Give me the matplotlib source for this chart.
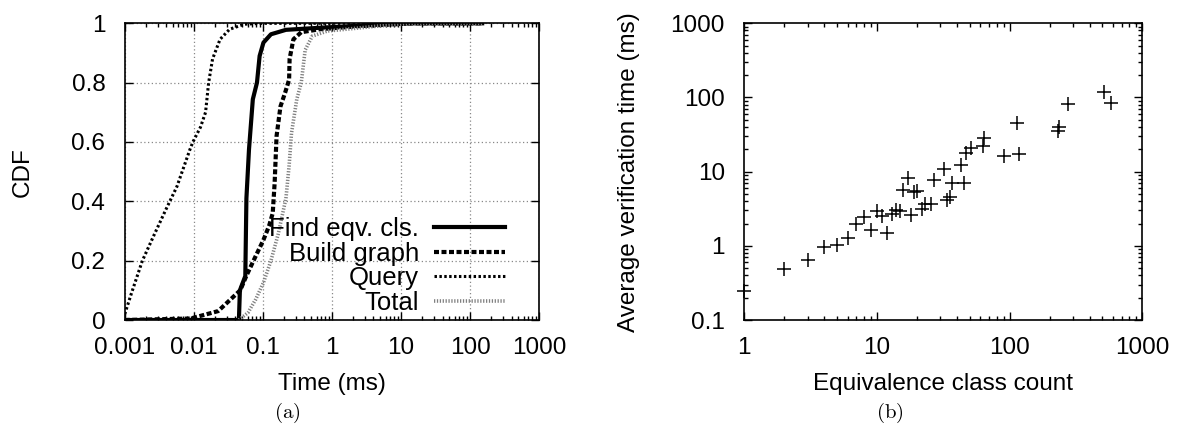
import matplotlib
matplotlib.use("Agg")
import matplotlib.pyplot as plt
from matplotlib.ticker import FixedLocator, LogLocator, NullFormatter, FuncFormatter

plt.rcParams.update(
    {
        "font.family": ["Liberation Sans", "DejaVu Sans"],
        "font.size": 17.5,
        "mathtext.fontset": "cm",
        "xtick.direction": "in",
        "ytick.direction": "in",
        "xtick.top": True,
        "ytick.right": True,
        "xtick.major.size": 6,
        "ytick.major.size": 6,
        "xtick.minor.size": 3,
        "ytick.minor.size": 3,
        "axes.linewidth": 1.2,
    }
)

# ---------------- (a) CDF of per-step time ----------------
find_x = [0.001, 0.045, 0.0465, 0.0557, 0.0578, 0.063, 0.0716, 0.0822, 0.0898,
          0.102, 0.131, 0.216, 0.67, 4.4, 15, 150]
find_y = [0, 0, 0.1, 0.148, 0.41, 0.575, 0.744, 0.8, 0.89,
          0.935, 0.963, 0.978, 0.985, 0.995, 1.0, 1.0]

build_x = [0.001, 0.009, 0.0225, 0.047, 0.058, 0.079, 0.102, 0.123, 0.139, 0.148,
           0.158, 0.18, 0.21, 0.24, 0.244, 0.277, 0.36, 0.67, 2.3, 15, 150]
build_y = [0, 0.005, 0.03, 0.1, 0.15, 0.216, 0.27, 0.317, 0.36, 0.46,
           0.62, 0.72, 0.766, 0.81, 0.88, 0.946, 0.97, 0.98, 0.99, 1.0, 1.0]

query_x = [0.001, 0.00125, 0.0018, 0.0027, 0.0039, 0.0057, 0.0088, 0.0097,
           0.0125, 0.0148, 0.0164, 0.0187, 0.024, 0.033, 0.054, 0.1, 150]
query_y = [0.02, 0.09, 0.2, 0.29, 0.37, 0.45, 0.575, 0.6,
           0.65, 0.70, 0.80, 0.88, 0.946, 0.98, 0.997, 1.0, 1.0]

total_x = [0.045, 0.061, 0.079, 0.102, 0.131, 0.167, 0.216, 0.24, 0.26,
           0.31, 0.36, 0.41, 0.52, 0.86, 1.6, 4.4, 15, 150]
total_y = [0, 0.025, 0.07, 0.126, 0.2, 0.29, 0.41, 0.52, 0.63,
           0.744, 0.8, 0.91, 0.957, 0.974, 0.98, 0.99, 1.0, 1.0]

# ---------------- (b) verification time vs class count ----------------
eqv_count = [1, 2, 3, 4, 5, 6, 7, 8, 9, 10, 11, 12, 13, 14, 15, 15.8, 17, 18,
             19, 20, 22, 23, 25.4, 27, 32, 33.5, 35.5, 37, 43, 45, 47, 51,
             62.6, 64.4, 91, 113, 118, 233, 237, 277, 514, 580]
verify_ms = [0.245, 0.49, 0.635, 0.96, 1.04, 1.26, 2.0, 2.46, 1.63, 2.93, 2.5,
             1.48, 2.72, 3.02, 2.93, 5.6, 8.2, 2.64, 5.4, 5.5, 3.18, 3.7, 3.7,
             7.6, 11.0, 4.2, 4.56, 7.05, 12.2, 7.05, 17.8, 20.8, 21.9, 28.4,
             16.3, 45.2, 17.1, 34.9, 39.9, 82.2, 118, 84]

fig = plt.figure(figsize=(11.78, 4.26), dpi=100)

# ==================================================
# left panel
# ==================================================
ax1 = fig.add_axes([0.1059, 0.2488, 0.3517, 0.6965])
ax1.plot(find_x, find_y, color="black", lw=3.0, label="Find eqv. cls.")
ax1.plot(build_x, build_y, color="black", lw=3.0, ls=(0, (1.2, 0.6)),
         label="Build graph")
ax1.plot(query_x, query_y, color="black", lw=2.2, ls=(0, (0.8, 0.8)),
         label="Query")
ax1.plot(total_x, total_y, color="#808080", lw=2.6, ls=(0, (0.35, 0.45)),
         label="Total")

ax1.set_xscale("log")
ax1.set_xlim(0.001, 1000)
ax1.set_ylim(0, 1)
ax1.xaxis.set_major_locator(LogLocator(base=10, numticks=10))
ax1.xaxis.set_minor_locator(LogLocator(base=10, subs=range(2, 10), numticks=20))
ax1.xaxis.set_minor_formatter(NullFormatter())
ax1.xaxis.set_major_formatter(FuncFormatter(lambda v, p: "%g" % v))
ax1.yaxis.set_major_locator(FixedLocator([0, 0.2, 0.4, 0.6, 0.8, 1.0]))
ax1.yaxis.set_major_formatter(FuncFormatter(lambda v, p: "%g" % v))
ax1.grid(True, which="major", color="#888888", ls=(0, (1, 2)), lw=0.9)
ax1.tick_params(which="both", width=1.0)
ax1.tick_params(axis="x", pad=12)
ax1.tick_params(axis="y", pad=14)

ax1.set_xlabel("Time (ms)", labelpad=10)
ax1.set_ylabel("CDF", labelpad=27)

leg = ax1.legend(loc="lower right", bbox_to_anchor=(0.955, -0.035),
                 frameon=False, markerfirst=False, handlelength=2.75,
                 handletextpad=0.6, labelspacing=0.02, borderaxespad=0.2,
                 fontsize=18.5)
for t in leg.get_texts():
    t.set_ha("right")
leg._legend_box.align = "right"

fig.text(287 / 1178, 1 - 413 / 426, r"$\mathrm{(a)}$", ha="center", va="center",
         fontsize=15)

# ==================================================
# right panel
# ==================================================
ax2 = fig.add_axes([0.6318, 0.2488, 0.3379, 0.6965])
ax2.scatter(eqv_count, verify_ms, marker="+", s=110, linewidths=1.1,
            color="black", clip_on=False, zorder=3)
ax2.set_xscale("log")
ax2.set_yscale("log")
ax2.set_xlim(1, 1000)
ax2.set_ylim(0.1, 1000)
ax2.xaxis.set_major_formatter(FuncFormatter(lambda v, p: "%g" % v))
ax2.yaxis.set_major_formatter(FuncFormatter(lambda v, p: "%g" % v))
ax2.xaxis.set_minor_formatter(NullFormatter())
ax2.yaxis.set_minor_formatter(NullFormatter())
ax2.tick_params(which="both", width=1.0)
ax2.tick_params(axis="x", pad=12)
ax2.tick_params(axis="y", pad=14)
ax2.set_xlabel("Equivalence class count", labelpad=10)
ax2.set_ylabel("Average verification time (ms)", labelpad=22)

fig.text(890 / 1178, 1 - 413 / 426, r"$\mathrm{(b)}$", ha="center", va="center",
         fontsize=15)

fig.savefig("out.png", dpi=100)
